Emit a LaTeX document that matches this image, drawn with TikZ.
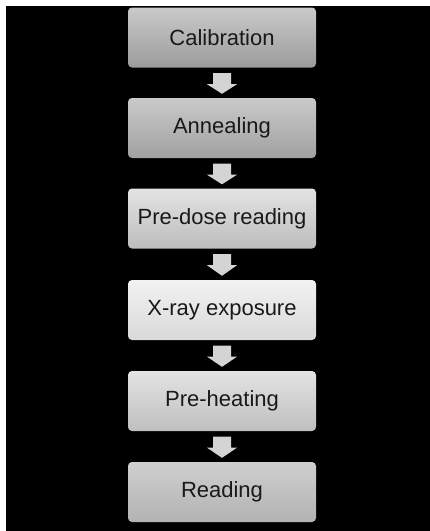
\documentclass[tikz,border=0pt]{standalone}
\usepackage{fontspec}
\setmainfont{Liberation Sans}
\begin{document}
\begin{tikzpicture}[x = 1pt, y = -1pt,
        stepbox/.style = {rounded corners = 4pt, minimum width = 188pt, minimum height = 60pt,
            inner sep = 0pt, text = black!90, font = \fontsize{22}{26}\selectfont},
        blockarrow/.style = {fill = black!17, draw = none}]
        \fill[white] (0, 0) rectangle (430, 531);
        \fill[black] (6, 6) rectangle (430, 531);
        \foreach \i/\lbl/\ytop/\ctop/\cbot in {1/Calibration/37.5/black!21/black!39,
                                              2/Annealing/128/black!21/black!37,
                                              3/Pre-dose reading/218.5/black!11/black!26,
                                              4/X-ray exposure/310/black!5/black!15,
                                              5/Pre-heating/401/black!11/black!25,
                                              6/Reading/492/black!19/black!30}{
            \node[stepbox, top color = \ctop, bottom color = \cbot] (s\i) at (222, \ytop) {\lbl};
        }
        \foreach \i in {1, ..., 5}{
            \pgfmathtruncatemacro{\j}{\i + 1}
            \fill[blockarrow] ([xshift = -9pt, yshift = -5.5pt]s\i.south) -- ([xshift = 9pt, yshift = -5.5pt]s\i.south)
                -- ([xshift = 9pt, yshift = -16.5pt]s\i.south) -- ([xshift = 15pt, yshift = -16.5pt]s\i.south)
                -- ([yshift = 4pt]s\j.north) -- ([xshift = -15pt, yshift = -16.5pt]s\i.south)
                -- ([xshift = -9pt, yshift = -16.5pt]s\i.south) -- cycle;
        }
    \end{tikzpicture}
\end{document}
